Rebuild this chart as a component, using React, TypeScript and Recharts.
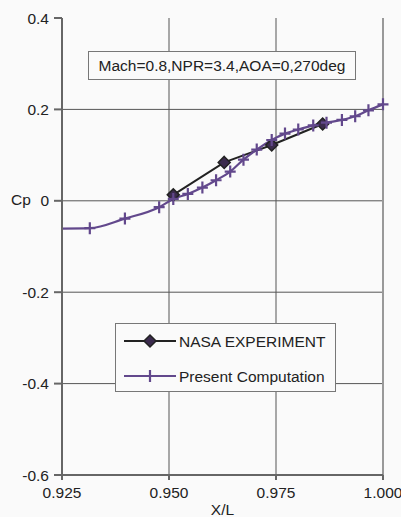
import React from 'react';
import {
  LineChart,
  Line,
  XAxis,
  YAxis,
  CartesianGrid,
  ReferenceLine,
} from 'recharts';

// Present Computation (smoothed CFD curve)
const compX = [
  0.925, 0.9315, 0.9397, 0.9477, 0.951, 0.9544, 0.9578, 0.961, 0.9643, 0.9674, 0.9705,
  0.974, 0.9771, 0.9802, 0.9837, 0.9868, 0.9904, 0.9935, 0.9966, 1.0,
];
const compCp = [
  -0.061, -0.06, -0.039, -0.014, 0.004, 0.015, 0.029, 0.045, 0.064, 0.09, 0.112,
  0.133, 0.147, 0.156, 0.165, 0.171, 0.177, 0.185, 0.198, 0.211,
];

// NASA experiment
const nasaX = [0.951, 0.9629, 0.974, 0.9859];
const nasaCp = [0.013, 0.084, 0.122, 0.168];

const xTicks = [0.925, 0.95, 0.975, 1.0];
const yTicks = [-0.6, -0.4, -0.2, 0, 0.2, 0.4];

const PURPLE = '#62488c';
const DARK = '#222222';
const FONT = '"Liberation Sans", Arial, sans-serif';

const compData = compX.map((x, i) => ({ x, cp: compCp[i] }));
const nasaData = nasaX.map((x, i) => ({ x, cp: nasaCp[i] }));

const PlusDot = (props: any) => {
  const { cx, cy, index } = props;
  if (index === 0 || cx == null) return <g key={`p${index}`} />;
  return (
    <path
      key={`p${index}`}
      d={`M${cx - 5.5},${cy}H${cx + 5.5}M${cx},${cy - 6}V${cy + 6}`}
      stroke={PURPLE}
      strokeWidth={2.2}
      fill="none"
    />
  );
};

const DiamondDot = (props: any) => {
  const { cx, cy, index } = props;
  if (cx == null) return <g key={`d${index}`} />;
  const r = 6;
  return (
    <path
      key={`d${index}`}
      d={`M${cx},${cy - r}L${cx + r},${cy}L${cx},${cy + r}L${cx - r},${cy}Z`}
      fill="#3b2b4d"
      stroke={DARK}
      strokeWidth={1.5}
    />
  );
};

const LegendBox = () => (
  <div
    style={{
      position: 'absolute',
      left: 115,
      top: 323,
      width: 221,
      height: 69,
      boxSizing: 'border-box',
      border: '1px solid #777',
      background: '#fafafa',
    }}
  >
    <svg width={219} height={67} style={{ position: 'absolute', left: 0, top: 0 }}>
      <line x1={8} x2={60} y1={17} y2={17} stroke={DARK} strokeWidth={2} />
      <DiamondDot cx={34} cy={17} index={0} />
      <line x1={8} x2={60} y1={52} y2={52} stroke={PURPLE} strokeWidth={2.2} />
      <path d="M28.5,52H39.5M34,46V58" stroke={PURPLE} strokeWidth={2.2} />
      <text x={63} y={22.5} fontFamily={FONT} fontSize={15.5} fill="#222">
        NASA EXPERIMENT
      </text>
      <text x={63} y={57.5} fontFamily={FONT} fontSize={15.5} fill="#222">
        Present Computation
      </text>
    </svg>
  </div>
);

export default function App() {
  return (
    <div
      style={{
        position: 'absolute',
        left: 0,
        top: 0,
        width: 401,
        height: 517,
        background: '#fafafa',
        overflow: 'hidden',
      }}
    >
      <LineChart
        width={401}
        height={517}
        margin={{ top: 18, right: 18, left: 0, bottom: 0 }}
        style={{ fontFamily: FONT }}
      >
        <CartesianGrid
          stroke="#555"
          strokeWidth={1}
          horizontalValues={[-0.4, -0.2, 0, 0.2]}
          verticalValues={[0.95, 0.975]}
        />
        <XAxis
          dataKey="x"
          type="number"
          domain={[0.925, 1.0]}
          ticks={xTicks}
          allowDuplicatedCategory={false}
          tickFormatter={(v: number) => v.toFixed(3)}
          height={42}
          tickSize={5}
          tickMargin={7}
          stroke="#666"
          strokeWidth={2}
          tick={{ fill: '#222', fontSize: 15.5, fontFamily: FONT }}
          label={{
            value: 'X/L',
            position: 'insideBottom',
            offset: 2,
            fill: '#222',
            fontSize: 15.5,
            fontFamily: FONT,
          }}
        />
        <YAxis
          type="number"
          domain={[-0.6, 0.4]}
          ticks={yTicks}
          tickFormatter={(v: number) => (v === 0 ? '0' : v.toFixed(1))}
          width={62}
          tickSize={8}
          tickMargin={5}
          stroke="#666"
          strokeWidth={2}
          tick={{ fill: '#222', fontSize: 15.5, fontFamily: FONT }}
          label={{
            value: 'Cp',
            position: 'insideLeft',
            offset: 11,
            dy: -47,
            fill: '#222',
            fontSize: 15.5,
            fontFamily: FONT,
          }}
        />
        <ReferenceLine x={1.0} stroke="#999" strokeWidth={2} />
        <Line
          data={nasaData}
          dataKey="cp"
          type="linear"
          stroke={DARK}
          strokeWidth={2}
          dot={<DiamondDot />}
          isAnimationActive={false}
          name="NASA EXPERIMENT"
        />
        <Line
          data={compData}
          dataKey="cp"
          type="monotone"
          stroke={PURPLE}
          strokeWidth={2.2}
          dot={<PlusDot />}
          isAnimationActive={false}
          name="Present Computation"
        />
      </LineChart>
      <LegendBox />
      <div
        style={{
          position: 'absolute',
          left: 88,
          top: 51,
          width: 268,
          height: 29,
          boxSizing: 'border-box',
          border: '1px solid #777',
          background: '#fafafa',
          fontFamily: FONT,
          fontSize: 15.5,
          color: '#222',
          lineHeight: '27px',
          textAlign: 'center',
        }}
      >
        Mach=0.8,NPR=3.4,AOA=0,270deg
      </div>
    </div>
  );
}
